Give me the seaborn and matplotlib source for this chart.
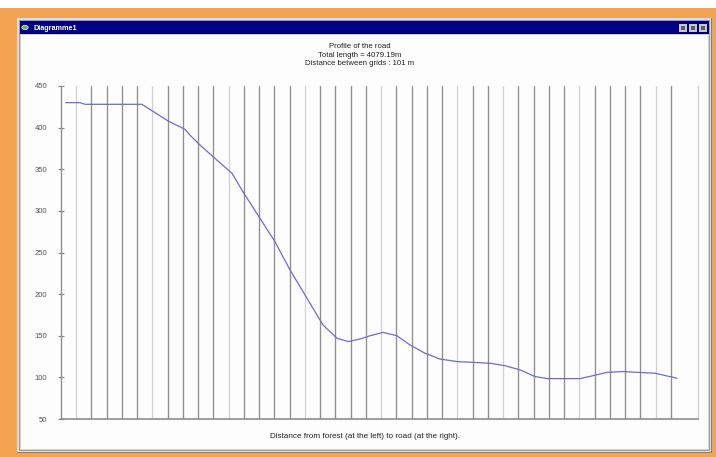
import matplotlib
matplotlib.use("Agg")
import matplotlib.pyplot as plt
from matplotlib.patches import Rectangle, Circle
import seaborn as sns
import pandas as pd

# Road profile: distance along the road (m) and elevation (m)
distance_m = [31, 126, 159, 536, 623, 709, 821, 854, 927, 1020,
              1133, 1205, 1318, 1417, 1517, 1636, 1735, 1828, 1901, 1980,
              2047, 2133, 2225, 2311, 2411, 2510, 2623, 2729, 2841, 2941,
              3040, 3139, 3225, 3437, 3523, 3616, 3722, 3821, 3934, 4079.19]
elevation_m = [430, 430, 428, 428, 418, 408, 398, 391, 378, 363,
               345, 323, 291, 263, 229, 193, 163, 147, 143, 146,
               150, 154, 150, 139, 129, 122, 119, 118, 117, 114,
               109, 101, 98.5, 98.5, 102, 106, 107, 106, 105, 99]
y_ticks = [50, 100, 150, 200, 250, 300, 350, 400, 450]
grid_step_m = 101
total_length_m = 4079.19
n_grid_lines = 41
title_lines = ["Profile of the road",
               f"Total length = {total_length_m:.2f}m",
               f"Distance between grids : {grid_step_m} m"]
x_label = "Distance from forest (at the left) to road (at the right)."
window_title = "Diagramme1"

sns.set_style("white")
plt.rcParams["font.family"] = ["Liberation Sans", "DejaVu Sans"]

W, H = 716, 457
fig = plt.figure(figsize=(W / 100, H / 100), dpi=100)
fig.patch.set_facecolor("white")


def px_rect(x0, y0, x1, y1, **kw):
    """Rectangle given in pixel coordinates (origin top-left)."""
    r = Rectangle((x0 / W, 1 - y1 / H), (x1 - x0) / W, (y1 - y0) / H,
                  transform=fig.transFigure, linewidth=0, zorder=0, **kw)
    fig.patches.append(r)
    return r


# orange frame around the window
px_rect(0, 8, W, H, facecolor="#f2a452")
# window border (3D look)
px_rect(17, 18, 712, 453, facecolor="#808080")
px_rect(17, 18, 711, 452, facecolor="#dcdcdc")
px_rect(19, 20, 710, 451, facecolor="#a0a0a0")
px_rect(20, 21, 709, 450, facecolor="#d4d0c8")
# title bar
px_rect(20, 21, 709, 34, facecolor="#000080")
# client area
px_rect(21, 35, 708, 449, facecolor="#fdfdfd")
# title-bar buttons
for bx in (679, 689, 699):
    px_rect(bx, 24, bx + 8, 32, facecolor="#c8c8c8")
    px_rect(bx + 2, 26, bx + 6, 30, facecolor="#606060")
# window icon
fig.patches.append(Circle((25 / W, 1 - 27.5 / H), 3.2 / W, transform=fig.transFigure,
                          facecolor="#6ab04c", edgecolor="#d0e8ff", linewidth=0.6,
                          zorder=0))
fig.text(34 / W, 1 - 28 / H, window_title, color="white", fontsize=5.2,
         fontweight="bold", ha="left", va="center")

# chart titles
for i, line in enumerate(title_lines):
    fig.text(360 / W, 1 - (47 + 8.3 * i) / H, line, ha="center", va="center",
             fontsize=5.6, color="#222222")
fig.text(365 / W, 1 - 437 / H, x_label, ha="center", va="center",
         fontsize=5.9, color="#222222")

# plot area
ax = fig.add_axes([61 / W, 1 - 419 / H, 637 / W, 333 / H])
ax.set_zorder(5)
ax.set_facecolor("none")

light_lines = {1, 6, 11, 16, 21, 26, 29, 34, 39}
for k in range(1, n_grid_lines):
    ax.axvline(k * grid_step_m, color="#d2d2d2" if k in light_lines else "#8e8e8e",
               lw=0.95, zorder=1)

df = pd.DataFrame({"distance": distance_m, "elevation": elevation_m})
sns.lineplot(data=df, x="distance", y="elevation", ax=ax, color="#6e6ec8",
             linewidth=0.9, zorder=3, estimator=None, sort=False)

ax.set_xlim(0, 4219)
ax.set_ylim(50, 450)
ax.set_yticks(y_ticks)
ax.set_yticklabels([str(v) for v in y_ticks])
ax.set_xticks([])
ax.set_xlabel("")
ax.set_ylabel("")
ax.tick_params(axis="y", direction="inout", length=4, width=0.8, color="#888888",
               labelsize=5.5, labelcolor="#555555", pad=8, left=True)
ax.spines["top"].set_visible(False)
ax.spines["left"].set_color("#8e8e8e")
ax.spines["left"].set_linewidth(1.0)
ax.spines["bottom"].set_color("#8e8e8e")
ax.spines["bottom"].set_linewidth(1.2)
ax.spines["right"].set_color("#d2d2d2")
ax.spines["right"].set_linewidth(1.0)

fig.savefig("out.png", dpi=100)
